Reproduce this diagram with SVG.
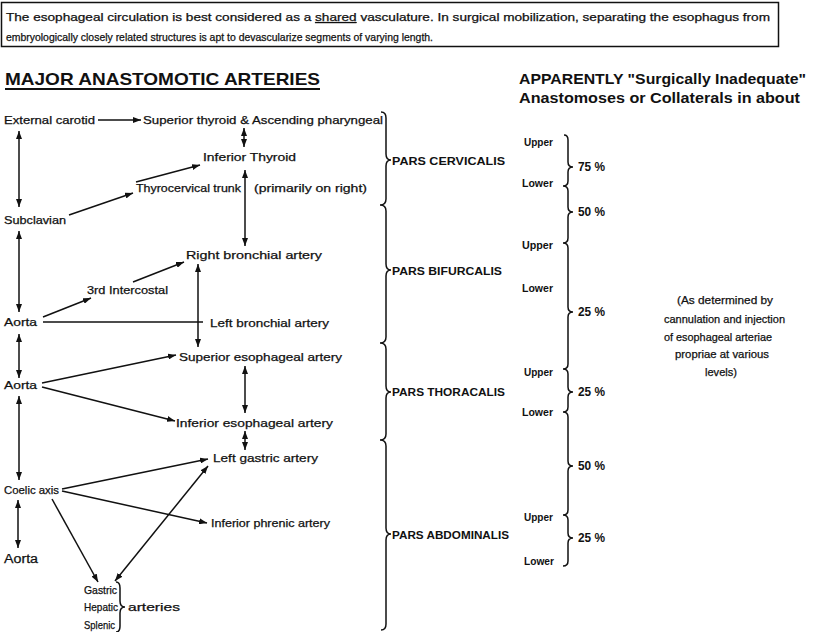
<svg xmlns="http://www.w3.org/2000/svg" width="822" height="632" viewBox="0 0 822 632">
<style>
text{font-family:"Liberation Sans",Arial,sans-serif;fill:#111;font-size:11px;stroke:#111;stroke-width:0.25}
.b{font-weight:bold;stroke-width:0}
.t{font-weight:bold;font-size:17px;stroke-width:0}
.t2{font-weight:bold;font-size:15.5px;stroke-width:0}
.bx{font-size:10.5px}
.sm{font-size:10px;font-weight:bold;stroke-width:0}
.c line,.c path{stroke:#111;stroke-width:1.5;fill:none}
.br{stroke:#111;stroke-width:1.5;fill:none}
</style>
<defs>
<marker id="ah" viewBox="0 0 8 6" refX="8" refY="3" markerWidth="8" markerHeight="6" markerUnits="userSpaceOnUse" orient="auto-start-reverse">
<path d="M0,0 L8,3 L0,6 z" fill="#111"/>
</marker>
</defs>
<rect width="822" height="632" fill="#fff"/>

<g id="intro">
<rect x="1.5" y="2.5" width="777" height="44" fill="none" stroke="#111" stroke-width="1.5"/>
<text class="bx" x="6" y="21" textLength="764" lengthAdjust="spacingAndGlyphs">The esophageal circulation is best considered as a <tspan text-decoration="underline">shared</tspan> vasculature. In surgical mobilization, separating the esophagus from</text>
<text class="bx" x="6" y="41" textLength="427" lengthAdjust="spacingAndGlyphs">embryologically closely related structures is apt to devascularize segments of varying length.</text>
</g>

<g id="title-left">
<text class="t" x="5" y="85" textLength="315" lengthAdjust="spacingAndGlyphs">MAJOR ANASTOMOTIC ARTERIES</text>
<line x1="5" y1="89" x2="320" y2="89" stroke="#111" stroke-width="1.8"/>
</g>
<g id="title-right">
<text class="t2" x="519" y="84" textLength="287" lengthAdjust="spacingAndGlyphs">APPARENTLY "Surgically Inadequate"</text>
<text class="t2" x="519" y="103" textLength="281" lengthAdjust="spacingAndGlyphs">Anastomoses or Collaterals in about</text>
</g>

<g id="external-carotid"><text x="4" y="124" textLength="91" lengthAdjust="spacingAndGlyphs">External carotid</text></g>
<g id="superior-thyroid"><text x="143" y="124" textLength="240" lengthAdjust="spacingAndGlyphs">Superior thyroid &amp; Ascending pharyngeal</text></g>
<g id="inferior-thyroid"><text x="203" y="161" textLength="93" lengthAdjust="spacingAndGlyphs">Inferior Thyroid</text></g>
<g id="thyrocervical-trunk"><text x="136" y="192" textLength="105" lengthAdjust="spacingAndGlyphs">Thyrocervical trunk</text><text x="254" y="192" textLength="113" lengthAdjust="spacingAndGlyphs">(primarily on right)</text></g>
<g id="subclavian"><text x="4" y="224" textLength="62" lengthAdjust="spacingAndGlyphs">Subclavian</text></g>
<g id="right-bronchial"><text x="186" y="259" textLength="136" lengthAdjust="spacingAndGlyphs">Right bronchial artery</text></g>
<g id="intercostal"><text x="87" y="294" textLength="81" lengthAdjust="spacingAndGlyphs">3rd Intercostal</text></g>
<g id="aorta-1"><text x="4" y="326" textLength="33" lengthAdjust="spacingAndGlyphs">Aorta</text></g>
<g id="left-bronchial"><text x="210" y="327" textLength="119" lengthAdjust="spacingAndGlyphs">Left bronchial artery</text></g>
<g id="superior-esophageal"><text x="179" y="361" textLength="163" lengthAdjust="spacingAndGlyphs">Superior esophageal artery</text></g>
<g id="aorta-2"><text x="4" y="389" textLength="33" lengthAdjust="spacingAndGlyphs">Aorta</text></g>
<g id="inferior-esophageal"><text x="176" y="427" textLength="157" lengthAdjust="spacingAndGlyphs">Inferior esophageal artery</text></g>
<g id="left-gastric"><text x="213" y="462" textLength="105" lengthAdjust="spacingAndGlyphs">Left gastric artery</text></g>
<g id="coelic-axis"><text x="4" y="494" textLength="55" lengthAdjust="spacingAndGlyphs" style="font-size:11.5px">Coelic axis</text></g>
<g id="inferior-phrenic"><text x="211" y="527" textLength="119" lengthAdjust="spacingAndGlyphs">Inferior phrenic artery</text></g>
<g id="aorta-3"><text x="4" y="563" textLength="34" lengthAdjust="spacingAndGlyphs" style="font-size:12px">Aorta</text></g>
<g id="gastric-hepatic-splenic">
<text x="84" y="594" textLength="33" lengthAdjust="spacingAndGlyphs">Gastric</text>
<text x="84" y="611" textLength="34" lengthAdjust="spacingAndGlyphs">Hepatic</text>
<text x="84" y="629" textLength="31" lengthAdjust="spacingAndGlyphs">Splenic</text>
<path class="br" d="M116,582 Q120,582 120,588 L120,601 Q120,607 125,607 Q120,607 120,613 L120,626 Q120,632 116,632"/>
<text x="128" y="611" textLength="52" lengthAdjust="spacingAndGlyphs">arteries</text>
</g>

<g id="pars-brace">
<path class="br" d="M381,112 Q386,112 386,118 L386,154 Q386,160 391,160 Q386,160 386,166 L386,199 Q386,205 380,205 Q386,205 386,211 L386,264 Q386,270 391,270 Q386,270 386,276 L386,337 Q386,343 380,343 Q386,343 386,349 L386,386 Q386,392 391,392 Q386,392 386,398 L386,434 Q386,440 380,440 Q386,440 386,446 L386,528 Q386,534 391,534 Q386,534 386,540 L386,624 Q386,630 381,630"/>
</g>
<g id="pars-cervicalis"><text class="b" x="392" y="165" textLength="113" lengthAdjust="spacingAndGlyphs">PARS CERVICALIS</text></g>
<g id="pars-bifurcalis"><text class="b" x="392" y="275" textLength="110" lengthAdjust="spacingAndGlyphs">PARS BIFURCALIS</text></g>
<g id="pars-thoracalis"><text class="b" x="392" y="396" textLength="113" lengthAdjust="spacingAndGlyphs">PARS THORACALIS</text></g>
<g id="pars-abdominalis"><text class="b" x="392" y="539" textLength="117" lengthAdjust="spacingAndGlyphs">PARS ABDOMINALIS</text></g>

<g id="levels-brace">
<path class="br" d="M564,135 Q568,135 568,140 L568,162 Q568,167 573,167 Q568,167 568,172 L568,181 Q568,186 563,186 Q568,186 568,191 L568,207 Q568,212 573,212 Q568,212 568,217 L568,238 Q568,243 563,243 Q568,243 568,248 L568,307 Q568,312 573,312 Q568,312 568,317 L568,364 Q568,369 563,369 Q568,369 568,374 L568,387 Q568,392 573,392 Q568,392 568,397 L568,407 Q568,412 563,412 Q568,412 568,417 L568,461 Q568,466 573,466 Q568,466 568,471 L568,510 Q568,515 563,515 Q568,515 568,520 L568,533 Q568,538 573,538 Q568,538 568,543 L568,561 Q568,566 563,566"/>
</g>
<g id="levels">
<text class="sm" x="524" y="146" textLength="29" lengthAdjust="spacingAndGlyphs">Upper</text>
<text class="sm" x="522" y="187" textLength="31" lengthAdjust="spacingAndGlyphs">Lower</text>
<text class="sm" x="522" y="249" textLength="31" lengthAdjust="spacingAndGlyphs">Upper</text>
<text class="sm" x="522" y="292" textLength="31" lengthAdjust="spacingAndGlyphs">Lower</text>
<text class="sm" x="524" y="376" textLength="29" lengthAdjust="spacingAndGlyphs">Upper</text>
<text class="sm" x="522" y="416" textLength="31" lengthAdjust="spacingAndGlyphs">Lower</text>
<text class="sm" x="524" y="521" textLength="29" lengthAdjust="spacingAndGlyphs">Upper</text>
<text class="sm" x="524" y="565" textLength="30" lengthAdjust="spacingAndGlyphs">Lower</text>
</g>
<g id="percentages">
<text class="b" x="578" y="171" textLength="27" lengthAdjust="spacingAndGlyphs" style="font-size:12px">75 %</text>
<text class="b" x="578" y="216" textLength="27" lengthAdjust="spacingAndGlyphs" style="font-size:12px">50 %</text>
<text class="b" x="578" y="316" textLength="27" lengthAdjust="spacingAndGlyphs" style="font-size:12px">25 %</text>
<text class="b" x="578" y="396" textLength="27" lengthAdjust="spacingAndGlyphs" style="font-size:12px">25 %</text>
<text class="b" x="578" y="470" textLength="27" lengthAdjust="spacingAndGlyphs" style="font-size:12px">50 %</text>
<text class="b" x="578" y="542" textLength="27" lengthAdjust="spacingAndGlyphs" style="font-size:12px">25 %</text>
</g>
<g id="note">
<text x="677" y="304" textLength="96" lengthAdjust="spacingAndGlyphs">(As determined by</text>
<text x="664" y="323" textLength="121" lengthAdjust="spacingAndGlyphs">cannulation and injection</text>
<text x="664" y="341" textLength="108" lengthAdjust="spacingAndGlyphs">of esophageal arteriae</text>
<text x="675" y="358" textLength="94" lengthAdjust="spacingAndGlyphs">propriae at various</text>
<text x="705" y="376" textLength="32" lengthAdjust="spacingAndGlyphs">levels)</text>
</g>

<g id="connectors" class="c">
<line x1="98" y1="120" x2="141" y2="120" marker-end="url(#ah)"/>
<line x1="244" y1="128" x2="244" y2="147" marker-start="url(#ah)" marker-end="url(#ah)"/>
<line x1="19" y1="131" x2="19" y2="207" marker-start="url(#ah)" marker-end="url(#ah)"/>
<line x1="69" y1="215" x2="133" y2="193" marker-end="url(#ah)"/>
<line x1="136" y1="182" x2="200" y2="165" marker-end="url(#ah)"/>
<line x1="245" y1="170" x2="245" y2="246" marker-start="url(#ah)" marker-end="url(#ah)"/>
<line x1="19" y1="231" x2="19" y2="312" marker-start="url(#ah)" marker-end="url(#ah)"/>
<line x1="43" y1="317" x2="91" y2="298" marker-end="url(#ah)"/>
<line x1="133" y1="282" x2="184" y2="262" marker-end="url(#ah)"/>
<line x1="43" y1="322" x2="203" y2="322"/>
<line x1="198" y1="264" x2="198" y2="347" marker-start="url(#ah)" marker-end="url(#ah)"/>
<line x1="19" y1="334" x2="19" y2="378" marker-start="url(#ah)" marker-end="url(#ah)"/>
<line x1="42" y1="383" x2="176" y2="355" marker-end="url(#ah)"/>
<line x1="42" y1="387" x2="175" y2="421" marker-end="url(#ah)"/>
<line x1="245" y1="366" x2="245" y2="413" marker-start="url(#ah)" marker-end="url(#ah)"/>
<line x1="245" y1="431" x2="245" y2="450" marker-start="url(#ah)" marker-end="url(#ah)"/>
<line x1="19" y1="396" x2="19" y2="480" marker-start="url(#ah)" marker-end="url(#ah)"/>
<line x1="62" y1="489" x2="208" y2="459" marker-end="url(#ah)"/>
<line x1="62" y1="491" x2="207" y2="523" marker-end="url(#ah)"/>
<line x1="52" y1="499" x2="98" y2="582" marker-end="url(#ah)"/>
<line x1="115" y1="581" x2="208" y2="466" marker-start="url(#ah)" marker-end="url(#ah)"/>
<line x1="18" y1="500" x2="18" y2="548" marker-start="url(#ah)" marker-end="url(#ah)"/>
</g>
</svg>
